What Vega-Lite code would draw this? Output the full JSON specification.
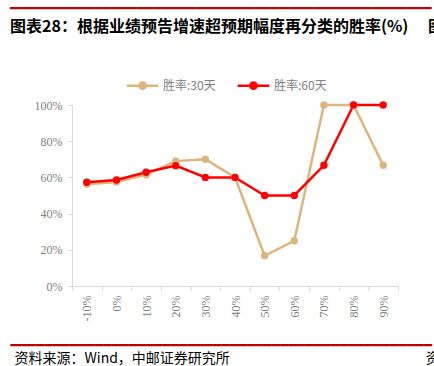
{
  "$schema": "https://vega.github.io/schema/vega-lite/v6.json",
  "width": 326,
  "height": 181,
  "autosize": "none",
  "padding": {"left": 72, "top": 105, "right": 36, "bottom": 80},
  "background": "white",
  "title": {
    "text": "━━━━━━━━━━━━━━━━━━━━━━━━━━━━━━━━━━━━━━━━━━━━━━━━━━",
    "subtitle": "图表28：根据业绩预告增速超预期幅度再分类的胜率(%)　 图",
    "anchor": "start",
    "frame": "group",
    "dx": -62,
    "color": "#C00000",
    "font": "DejaVu Sans",
    "fontSize": 14,
    "fontWeight": "normal",
    "subtitleFont": "Noto Sans CJK SC",
    "subtitleFontSize": 16,
    "subtitleFontWeight": "bold",
    "subtitleColor": "#000000",
    "subtitlePadding": 3,
    "offset": 33
  },
  "data": {
    "values": [
      {"x": "-10%", "s": "胜率:30天", "v": 0.562},
      {"x": "0%", "s": "胜率:30天", "v": 0.575},
      {"x": "10%", "s": "胜率:30天", "v": 0.615},
      {"x": "20%", "s": "胜率:30天", "v": 0.69},
      {"x": "30%", "s": "胜率:30天", "v": 0.70},
      {"x": "40%", "s": "胜率:30天", "v": 0.60},
      {"x": "50%", "s": "胜率:30天", "v": 0.167},
      {"x": "60%", "s": "胜率:30天", "v": 0.25},
      {"x": "70%", "s": "胜率:30天", "v": 1.0},
      {"x": "80%", "s": "胜率:30天", "v": 1.0},
      {"x": "90%", "s": "胜率:30天", "v": 0.667},
      {"x": "-10%", "s": "胜率:60天", "v": 0.573},
      {"x": "0%", "s": "胜率:60天", "v": 0.586},
      {"x": "10%", "s": "胜率:60天", "v": 0.628},
      {"x": "20%", "s": "胜率:60天", "v": 0.665},
      {"x": "30%", "s": "胜率:60天", "v": 0.60},
      {"x": "40%", "s": "胜率:60天", "v": 0.60},
      {"x": "50%", "s": "胜率:60天", "v": 0.50},
      {"x": "60%", "s": "胜率:60天", "v": 0.50},
      {"x": "70%", "s": "胜率:60天", "v": 0.667},
      {"x": "80%", "s": "胜率:60天", "v": 1.0},
      {"x": "90%", "s": "胜率:60天", "v": 1.0}
    ]
  },
  "encoding": {
    "x": {
      "field": "x",
      "type": "nominal",
      "sort": null,
      "scale": {"type": "band", "paddingInner": 0, "paddingOuter": 0},
      "axis": {
        "labelAngle": -90,
        "labelFont": "Liberation Serif",
        "labelFontSize": 12,
        "labelColor": "#808080",
        "labelPadding": 5,
        "domainColor": "#D9D9D9",
        "tickColor": "#D9D9D9",
        "tickSize": 4,
        "tickBand": "extent",
        "grid": false,
        "title": "资料来源：Wind，中邮证券研究所　　　　　　　　　　　　　　资",
        "titleFont": "Noto Sans CJK SC",
        "titleFontSize": 14,
        "titleFontWeight": "normal",
        "titleColor": "#000000",
        "titleAlign": "left",
        "titleAnchor": "start",
        "titleBaseline": "middle",
        "titleX": -58,
        "titleY": 72
      }
    },
    "y": {
      "field": "v",
      "type": "quantitative",
      "scale": {"domain": [0, 1], "nice": false},
      "axis": {
        "values": [0, 0.2, 0.4, 0.6, 0.8, 1.0],
        "format": ".0%",
        "labelFont": "Liberation Serif",
        "labelFontSize": 12,
        "labelColor": "#808080",
        "labelPadding": 6,
        "domainColor": "#D9D9D9",
        "tickColor": "#D9D9D9",
        "tickSize": 4,
        "grid": false,
        "title": "━━━━━━━━━━━━━━━━━━━━━━━━━━━━━━━━━━━━━━━━━━━━━━━━━━",
        "titleAngle": 0,
        "titleFont": "DejaVu Sans",
        "titleFontSize": 14,
        "titleFontWeight": "normal",
        "titleColor": "#C00000",
        "titleAlign": "left",
        "titleBaseline": "middle",
        "titleX": -62,
        "titleY": 240
      }
    },
    "color": {
      "field": "s",
      "type": "nominal",
      "scale": {"domain": ["胜率:30天", "胜率:60天"], "range": ["#DDB57C", "#FF0000"]},
      "legend": {
        "title": null,
        "orient": "none",
        "legendX": 53,
        "legendY": -37,
        "direction": "horizontal",
        "columns": 2,
        "columnPadding": 16,
        "symbolType": "M-1,0L1,0M0.2,0A0.2,0.2 0 1,1 -0.2,0A0.2,0.2 0 1,1 0.2,0",
        "symbolSize": 1000,
        "symbolStrokeWidth": 2.5,
        "labelFont": "Noto Sans CJK SC",
        "labelFontSize": 12,
        "labelColor": "#7F7F7F",
        "labelOffset": 3,
        "encode": {
          "symbols": {"update": {"fill": {"scale": "color", "field": "value"}, "stroke": {"scale": "color", "field": "value"}, "opacity": {"value": 1}}}
        }
      }
    }
  },
  "layer": [
    {"mark": {"type": "line", "strokeWidth": 2.5}},
    {"mark": {"type": "point", "filled": true, "size": 55, "opacity": 1}}
  ],
  "config": {"view": {"stroke": null}}
}
